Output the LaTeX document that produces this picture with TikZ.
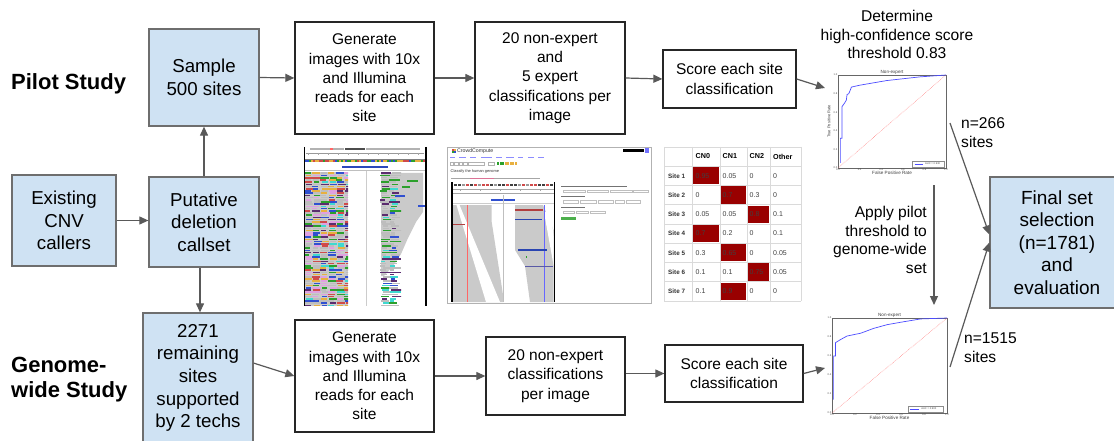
\documentclass[tikz,border=0pt]{standalone}
\usepackage{fontspec}
\setmainfont{Liberation Sans}
\usetikzlibrary{arrows.meta,calc}
\definecolor{bfill}{HTML}{CFE2F3}
\definecolor{bdraw}{HTML}{6E6E6E}
\definecolor{agray}{HTML}{595959}
\definecolor{dred}{HTML}{990000}
\definecolor{igvA}{HTML}{BDBDBD}
\definecolor{igvB}{HTML}{5B2C6F}
\definecolor{igvC}{HTML}{2CA02C}
\definecolor{igvD}{HTML}{3FD9D0}
\definecolor{igvE}{HTML}{3050D0}
\definecolor{igvF}{HTML}{D04A4A}
\definecolor{igvG}{HTML}{E8B040}
\definecolor{igvH}{HTML}{E0A0E0}
\definecolor{readgray}{HTML}{CACACA}
\definecolor{tgrid}{HTML}{DADADA}
\begin{document}
\begin{tikzpicture}[x=1pt,y=-1pt,
  bluebox/.style={draw=bdraw, fill=bfill, line width=1.3pt, align=center, inner sep=0pt, font=\fontsize{18.7}{22.6}\selectfont},
  wbox/.style={draw=black!85, line width=1.3pt, fill=white, align=center, inner sep=0pt, font=\fontsize{15.5}{19.3}\selectfont},
  arr/.style={draw=agray, line width=1.2pt, -{Triangle[length=9pt,width=8pt]}},
  lbl/.style={inner sep=0pt, font=\fontsize{15.6}{18.7}\selectfont},
  study/.style={inner sep=0pt, anchor=west, align=left, font=\bfseries\fontsize{22}{25}\selectfont},
  tinyt/.style={inner sep=0.5pt, font=\fontsize{4.6}{5}\selectfont, text=black!75},
  ticklab/.style={inner sep=0.6pt, font=\fontsize{2.6}{3}\selectfont, text=black!70},
  thd/.style={inner sep=0pt, anchor=west, font=\bfseries\fontsize{7.2}{8}\selectfont},
  tsite/.style={inner sep=0pt, anchor=west, font=\bfseries\fontsize{6.3}{7}\selectfont, text=black!80},
  tval/.style={inner sep=0pt, anchor=west, font=\fontsize{7}{8}\selectfont, text=black!75},
  shot/.style={inner sep=0pt, anchor=west, text=black!80},
]
\useasboundingbox (0,0) rectangle (1114,441);
\clip (0,0) rectangle (1114,441);
\fill[white] (0,0) rectangle (1114,441);

% ---------------- left labels
\node[study] (pilot) at (11,84) {Pilot Study};
\node[study] (genome) at (11,380) {Genome-\\wide Study};

% ---------------- blue boxes
\node[bluebox, minimum width=110pt, minimum height=97pt] (sample) at (204,77.5) {Sample\\500 sites};
\node[bluebox, minimum width=104pt, minimum height=91pt] (existing) at (64,220.5) {Existing\\CNV\\callers};
\node[bluebox, minimum width=110pt, minimum height=90pt] (putative) at (204,222) {Putative\\deletion\\callset};
\node[bluebox, minimum width=110pt, minimum height=130pt] (remaining) at (198,378) {2271\\remaining\\sites\\supported\\by 2 techs};
\node[bluebox, minimum width=134pt, minimum height=131pt, font=\fontsize{19}{22.6}\selectfont] (final) at (1057,242.5) {Final set\\selection\\(n=1781)\\and\\evaluation};

% ---------------- white boxes
\node[wbox, minimum width=139pt, minimum height=112pt] (gen1) at (364.5,78) {Generate\\images with 10x\\and Illumina\\reads for each\\site};
\node[wbox, minimum width=150pt, minimum height=112pt] (ne1) at (550,78) {20 non-expert\\and\\5 expert\\classifications per\\image};
\node[wbox, minimum width=133pt, minimum height=58pt] (score1) at (729.5,79) {Score each site\\classification};
\node[wbox, minimum width=139pt, minimum height=112pt] (gen2) at (364.5,376) {Generate\\images with 10x\\and Illumina\\reads for each\\site};
\node[wbox, minimum width=139pt, minimum height=78pt] (ne2) at (555.5,376) {20 non-expert\\classifications\\per image};
\node[wbox, minimum width=138pt, minimum height=57pt] (score2) at (734,373.5) {Score each site\\classification};

% ---------------- text labels
\node[lbl, align=center] (determine) at (897,34.5) {Determine\\high-confidence score\\threshold 0.83};
\node[lbl, align=left, anchor=west] (n266) at (961,132.5) {n=266\\sites};
\node[lbl, align=right, anchor=east] (apply) at (927,240) {Apply pilot\\threshold to\\genome-wide\\set};
\node[lbl, align=left, anchor=west] (n1515) at (964,348) {n=1515\\sites};

% ---------------- free connector ends
\coordinate (roc1in) at (825,88);
\coordinate (roc2in) at (825,368);
\coordinate (vtop) at (934,185);
\coordinate (vbot) at (934,305);
\coordinate (a266) at (950,123);
\coordinate (a1515) at (950,367);

% ---------------- connectors
\draw[arr] (existing.east) -- (existing.east -| putative.west);
\draw[arr] (putative.north) -- (sample.south);
\draw[arr] ($(putative.south)+(-4,0)$) -- ($(remaining.north)+(2,0)$);
\draw[arr] (sample.east) -- (gen1.west);
\draw[arr] (gen1.east) -- (ne1.west);
\draw[arr] (ne1.east) -- (score1.west);
\draw[arr] (score1.east) -- (roc1in);
\draw[arr] (remaining.15) -- (gen2.west);
\draw[arr] (gen2.east) -- (ne2.west);
\draw[arr] (ne2.east |- score2.west) -- (score2.west);
\draw[arr] (score2.east) -- (roc2in);
\draw[arr] (vtop) -- (vbot);
\draw[arr] (a266) -- ($(final.west)+(0,-8)$);
\draw[arr] (a1515) -- (final.west);

% ---------------- ROC plot 1
\begin{scope}[shift={(838,168)}, x=108pt, y=93pt]
  \draw[line width=0.4pt, black!60] (0,0) rectangle (1,1);
  \draw[red!55, densely dotted, line width=0.5pt] (0,0) -- (1,1);
  \draw[blue!70, line width=0.7pt] plot coordinates {(0.022,0.054) (0.022,0.32) (0.037,0.32) (0.037,0.66) (0.062,0.70) (0.077,0.73) (0.084,0.79) (0.10,0.80) (0.118,0.85) (0.124,0.87) (0.2,0.89) (0.45,0.94) (0.76,0.98) (1,1)};
  \node[tinyt, above] (r1t) at (0.5,1) {Non-expert};
  \node[tinyt, below=2.5pt] (r1x) at (0.5,0) {False Positive Rate};
  \node[tinyt, rotate=90, font=\fontsize{4}{4.5}\selectfont] (r1y) at (-0.085,0.5) {True Positive Rate};
  \foreach \v [count=\i] in {0.0,0.2,0.4,0.6,0.8,1.0} {
    \node[ticklab, below] (r1xt\i) at (\v,0) {\v};
    \node[ticklab, left] (r1yt\i) at (0,\v) {\v};
  }
  \draw[black!45, line width=0.3pt, fill=white] (0.69,0.012) rectangle (0.985,0.075);
  \draw[blue!70, line width=0.5pt] (0.71,0.044) -- (0.79,0.044);
  \node[ticklab, anchor=west] (r1leg) at (0.8,0.044) {AUC = 0.930};
\end{scope}

% ---------------- ROC plot 2
\begin{scope}[shift={(832,413)}, x=115pt, y=95pt]
  \draw[line width=0.4pt, black!60] (0,0) rectangle (1,1);
  \draw[red!55, densely dotted, line width=0.5pt] (0,0) -- (1,1);
  \draw[blue!70, line width=0.7pt] plot coordinates {(0.014,0.14) (0.014,0.60) (0.03,0.60) (0.03,0.74) (0.07,0.77) (0.13,0.81) (0.25,0.84) (0.36,0.89) (0.48,0.93) (0.62,0.96) (0.77,0.99) (1,1)};
  \node[tinyt, above] (r2t) at (0.5,1) {Non-expert};
  \node[tinyt, below=2.5pt] (r2x) at (0.5,0) {False Positive Rate};
  \foreach \v [count=\i] in {0.0,0.2,0.4,0.6,0.8,1.0} {
    \node[ticklab, below] (r2xt\i) at (\v,0) {\v};
    \node[ticklab, left] (r2yt\i) at (0,\v) {\v};
  }
  \draw[black!45, line width=0.3pt, fill=white] (0.66,0.012) rectangle (0.97,0.074);
  \draw[blue!70, line width=0.5pt] (0.68,0.043) -- (0.76,0.043);
  \node[ticklab, anchor=west] (r2leg) at (0.77,0.043) {AUC = 0.900};
\end{scope}

% ---------------- table
\foreach \a/\b/\cc/\d/\rc [count=\r] in {0.95/0.05/0/0/0, 0/0.7/0.3/0/1, 0.05/0.05/0.8/0.1/2, 0.7/0.2/0/0.1/0, 0.3/0.65/0/0.05/1, 0.1/0.1/0.75/0.05/2, 0.1/0.9/0/0/1} {
  \pgfmathsetmacro\yt{146.8+\r*19.27}
  \pgfmathsetmacro\ym{\yt+9.7}
  \pgfmathsetmacro\xl{{692,720,747,770}[\rc]}
  \pgfmathsetmacro\xr{{720,747,770,801}[\rc]}
  \fill[dred] (\xl+1,\yt+1) rectangle (\xr-1,\yt+18.3);
  \node[tsite] (site\r) at (668,\ym) {Site \r};
  \node[tval] (v\r-a) at (695.5,\ym) {\a};
  \node[tval] (v\r-b) at (722.5,\ym) {\b};
  \node[tval] (v\r-c) at (749.5,\ym) {\cc};
  \node[tval] (v\r-d) at (773,\ym) {\d};
}
\foreach \lab/\xx [count=\c] in {CN0/695.5, CN1/722.5, CN2/749.5, Other/773} {
  \node[thd] (th\c) at (\xx,156.5) {\lab};
}
\foreach \x in {664,692,720,747,770,801} \draw[tgrid, line width=0.6pt] (\x,147) -- (\x,301);
\foreach \y in {147,166.07,185.34,204.61,223.88,243.15,262.42,281.69,301} \draw[tgrid, line width=0.6pt] (664,\y) -- (801,\y);

% ---------------- IGV screenshot
\pgfmathsetseed{12}
\fill[white] (303,147) rectangle (427,306);
\draw[black!40, line width=0.3pt] (306,153) -- (424,153);
\foreach \i in {0,...,11} \draw[black!35, line width=0.3pt] (308+\i*10,153) -- (308+\i*10,155.5);
\fill[black!70] (345,148) rectangle (365,150.5);
\fill[black!30] (310,148.5) rectangle (344,150);
\fill[black!30] (366,148.5) rectangle (420,150);
\fill[red!60] (330,148) rectangle (333,150.5);
\draw[black!50, line width=0.4pt] (305,159.5) -- (425,159.5);
\foreach \i in {0,...,59} {
  \pgfmathtruncatemacro\ci{rnd*4}
  \pgfmathsetmacro\cc{{"igvF","igvE","igvC","igvG"}[\ci]}
  \fill[\cc] (305+\i*2,160.5) rectangle ++(2,1.5);
}
\fill[igvE!90!black] (342,166) rectangle (388,168);
\draw[black!25, line width=0.3pt] (305,170.5) -- (425,170.5);
\draw[black!20, line width=0.4pt] (366,171) -- (366,306);
\fill[readgray] (381,173) -- (423,173) -- (423,212) -- (416,222) -- (408,238) -- (401,254) -- (393,266) -- (384,276) -- (381,276) -- cycle;
\begin{scope}
  \clip (305,172) rectangle (348,306);
  \fill[igvA!80] (305,172) rectangle (348,306);
  \foreach \r in {0,...,60} {
    \pgfmathsetmacro\yy{172.5+\r*2.2}
    \foreach \k in {0,...,5} {
      \pgfmathsetmacro\xa{304+\k*8+rnd*2}
      \pgfmathsetmacro\ww{5+rnd*4}
      \pgfmathtruncatemacro\ci{rnd*10}
      \pgfmathsetmacro\cc{{"igvA","igvA","igvA","igvB","igvC","igvD","igvE","igvF","igvG","igvH"}[\ci]}
      \fill[\cc] (\xa,\yy) rectangle ++(\ww,1.7);
    }
  }
\end{scope}
\begin{scope}
  \clip (380,172) rectangle (401,306);
  \foreach \r in {0,...,60} {
    \pgfmathsetmacro\yy{172.5+\r*2.2}
    \foreach \k in {0,1} {
      \pgfmathsetmacro\xa{380+\k*9+rnd*3}
      \pgfmathsetmacro\ww{4+rnd*8}
      \pgfmathtruncatemacro\ci{rnd*10}
      \pgfmathsetmacro\cc{{"igvA","igvA","igvA","igvA","igvB","igvC","igvD","igvE","igvA","igvB"}[\ci]}
      \fill[\cc] (\xa,\yy) rectangle ++(\ww,1.6);
    }
  }
\end{scope}
\fill[igvC] (407,180) rectangle (418,181.5);
\fill[igvE] (395,195) rectangle (405,196.5);
\fill[igvE] (418,205) rectangle (425,206.5);
\fill[igvC] (402,186) rectangle (410,187.5);
\draw[black, line width=1pt] (304,147) -- (304,306);
\draw[black, line width=2pt] (425.5,147) -- (425.5,306);

% ---------------- CrowdCompute screenshot
\fill[white] (447,147) rectangle (651,303);
\fill[igvF] (451.5,148.8) rectangle (453.5,150.8);
\fill[igvG] (453.5,148.8) rectangle (455.5,150.8);
\fill[igvC] (451.5,150.8) rectangle (453.5,152.8);
\fill[igvE] (453.5,150.8) rectangle (455.5,152.8);
\node[shot, font=\fontsize{5.2}{6}\selectfont] (cctitle) at (457,151) {CrowdCompute};
\fill[black] (623,149.5) rectangle (644,152.5);
\fill[blue!55] (645,148.5) rectangle (648.5,153.5);
\foreach \x/\w in {450/5, 459/7, 470/6, 481/11, 496/6, 506/8, 518/5, 528/6, 538/6} \draw[blue!45, line width=0.6pt] (\x,157) -- ++(\w,0);
\foreach \x in {450,454.5,459,463.5} \draw[black!30, line width=0.3pt] (\x,162) rectangle ++(3.5,3.5);
\draw[black!30, line width=0.3pt] (468,162) rectangle ++(16,3.5);
\draw[black!30, line width=0.3pt] (488,162) rectangle ++(6,3.5);
\foreach \i in {0,...,7} {
  \pgfmathsetmacro\cc{{"igvC","igvC","igvC","igvG","igvG","igvG","igvG","igvG"}[\i]}
  \fill[\cc] (497+\i*2.5,162.3) rectangle ++(2,3);
}
\node[shot, font=\fontsize{3.9}{4.5}\selectfont] (cchead) at (450.5,171.5) {Classify the human genome};
\draw[black!35, line width=0.6pt] (451,178) -- (540,178);
\draw[purple!55, line width=0.6pt] (470,178) -- (494,178);
% inner IGV panel
\foreach \i in {0,...,24} {
  \pgfmathtruncatemacro\ci{rnd*3}
  \pgfmathsetmacro\cc{{"black!75","igvF","black!40"}[\ci]}
  \fill[\cc] (454+\i*4,184.3) rectangle ++(3,1.6);
}
\draw[black!35, line width=0.3pt] (453,189.5) -- (554,189.5);
\foreach \i in {0,...,4} \draw[black!35, line width=0.3pt] (460+\i*20,189.5) -- ++(0,1.5);
\draw[black!35, line width=0.3pt] (453,193.5) -- (554,193.5);
\fill[igvE] (491,199.4) rectangle (515,200.8);
\draw[black!20, line width=0.3pt] (453,203) -- (554,203);
\fill[readgray] (452.3,205) -- (491.7,205) -- (491.7,222) -- (503.3,296.7) -- (503.3,302) -- (452.3,302) -- cycle;
\fill[white] (456.5,205) -- (459.5,205) -- (500,302) -- (486,302) -- cycle;
\fill[readgray] (515,205) -- (543,205) -- (553.5,230) -- (553.5,302) -- (530,302) -- (525,266) -- (515,250) -- cycle;
\fill[white] (544,212) -- (551,212) -- (553.5,236) -- (553.5,265) -- cycle;
\draw[black!25, line width=0.3pt] (502.7,195) -- (502.7,302);
\draw[red!60, line width=0.3pt] (467.3,205) -- (467.3,302);
\draw[blue!60, line width=0.3pt] (544.3,205) -- (544.3,302);
\fill[igvF!85!black] (452.3,223.6) rectangle (465,225);
\fill[igvF!85!black] (515,209.4) rectangle (543.3,210.8);
\fill[igvE!85!black] (515,218.6) rectangle (541.7,220);
\fill[igvE!85!black] (518.3,249.3) rectangle (546.7,250.7);
\fill[blue!30!gray] (525,266) rectangle (553.3,267.4);
\fill[igvC] (526,256) rectangle (527,258);
\draw[black, line width=1.2pt] (452,182) -- (452,302);
\draw[black, line width=1.4pt] (554.5,182) -- (554.5,302);
% question panel
\draw[black!55, line width=0.6pt] (561,186) -- (626.7,186);
\foreach \x/\w in {563/22, 587/21, 610/22, 633/15} \draw[black!25, line width=0.3pt] (\x,190) rectangle ++(\w,2.6);
\draw[black!55, line width=0.6pt] (561,196.7) -- (585,196.7);
\foreach \x/\w in {563/15, 580/16, 598/15, 615/9, 626/14} \draw[black!25, line width=0.3pt] (\x,200.4) rectangle ++(\w,2.6);
\draw[black!55, line width=0.6pt] (561,207) -- (585,207);
\foreach \x/\w in {563/11, 576/12, 590/15} \draw[black!25, line width=0.3pt] (\x,210.7) rectangle ++(\w,2.6);
\fill[green!55!black!70] (561,216.5) rectangle (575.7,220);
\draw[black!30, line width=0.8pt] (447,147) rectangle (651,303);
\end{tikzpicture}
\end{document}
